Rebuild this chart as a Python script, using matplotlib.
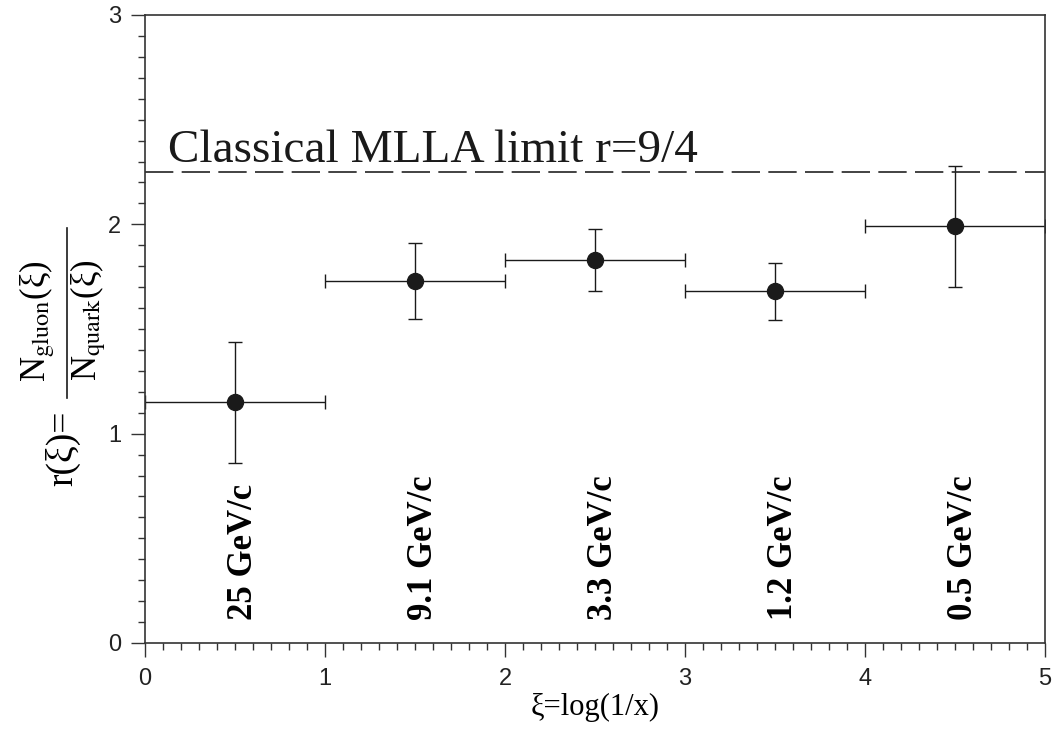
import numpy as np
import matplotlib.pyplot as plt
from matplotlib.lines import Line2D
from matplotlib.ticker import MultipleLocator

# Data
xi_center = [0.5, 1.5, 2.5, 3.5, 4.5]
xi_halfwidth = [0.5, 0.5, 0.5, 0.5, 0.5]
ratio = [1.15, 1.73, 1.83, 1.68, 1.99]
ratio_err = [0.29, 0.18, 0.15, 0.135, 0.29]
momentum_labels = ['25 GeV/c', '9.1 GeV/c', '3.3 GeV/c', '1.2 GeV/c', '0.5 GeV/c']
mlla_limit = 9.0 / 4.0

XI = '\u03be'

plt.rcParams['mathtext.fontset'] = 'stix'
plt.rcParams['font.family'] = 'sans-serif'
plt.rcParams['font.sans-serif'] = ['Liberation Sans']

W, H = 1063, 735
fig = plt.figure(figsize=(W / 100, H / 100), dpi=100)
ax = fig.add_axes([0.1364, 0.1252, 0.8466, 0.8544])

ax.errorbar(xi_center, ratio, xerr=xi_halfwidth, yerr=ratio_err,
            fmt='o', color='#1a1a1a', ms=11.5, elinewidth=1.0,
            capsize=4.7, capthick=1.0)

ax.axhline(mlla_limit, color='#222222', lw=1.2, dashes=(17, 5))
ax.text(0.13, 2.30, 'Classical MLLA limit r=9/4', family='Liberation Serif',
        fontsize=34, color='#1a1a1a', va='baseline')

for x, lab in zip(xi_center, momentum_labels):
    ax.text(x + 0.05, 0.11, lab, rotation=90, ha='center', va='bottom',
            family='Liberation Serif', fontweight='bold', fontsize=25)

ax.set_xlim(0, 5)
ax.set_ylim(0, 3)
ax.xaxis.set_major_locator(MultipleLocator(1))
ax.xaxis.set_minor_locator(MultipleLocator(0.1))
ax.yaxis.set_major_locator(MultipleLocator(1))
ax.yaxis.set_minor_locator(MultipleLocator(0.1))
ax.tick_params(which='both', direction='out', top=False, right=False,
               width=1.0, color='#333333')
ax.tick_params(which='major', length=10, labelsize=17, labelcolor='#222222')
ax.tick_params(axis='x', which='major', pad=8)
ax.tick_params(axis='y', which='major', pad=7)
ax.tick_params(which='minor', length=5)
for sp in ax.spines.values():
    sp.set_linewidth(1.2)
    sp.set_color('#333333')

ax.set_xlabel(XI + '=log(1/x)', family='Liberation Serif',
              fontsize=22, labelpad=2)

# y label built by hand: r(xi)= N_gluon(xi) / N_quark(xi)
fig.text(63 / W, 1 - 448 / H, 'r(' + XI + ')=', rotation=90,
         ha='center', va='center', family='Liberation Serif', fontsize=27)
fig.text(37 / W, 1 - 321 / H, r'N$_{\mathrm{gluon}}$(' + XI + ')', rotation=90,
         ha='center', va='center', family='Liberation Serif', fontsize=25)
fig.text(88 / W, 1 - 320 / H, r'N$_{\mathrm{quark}}$(' + XI + ')', rotation=90,
         ha='center', va='center', family='Liberation Serif', fontsize=25)
fig.add_artist(Line2D([67 / W, 67 / W], [1 - 398 / H, 1 - 228 / H],
                      transform=fig.transFigure, color='#1a1a1a', lw=1.2))

fig.savefig('out.png', dpi=100)
